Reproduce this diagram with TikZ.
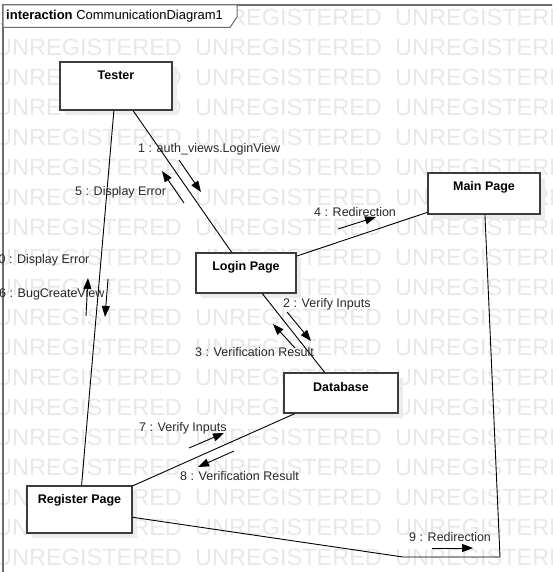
\documentclass[tikz,border=0pt]{standalone}
\usepackage{fontspec}
\setmainfont{Liberation Sans}
\usetikzlibrary{arrows.meta}
\definecolor{wmgray}{RGB}{232,232,232}
\definecolor{shadowgray}{RGB}{236,236,236}
\definecolor{boxline}{RGB}{60,60,60}
\definecolor{framegray}{RGB}{110,110,110}
\definecolor{labelcol}{RGB}{40,40,40}
\begin{document}
\begin{tikzpicture}[x=1pt,y=-1pt,
  wm/.style={anchor=west,inner sep=0pt,text=wmgray,font=\fontsize{23.5}{26}\selectfont},
  objbox/.style={draw=boxline,line width=1.3pt,fill=white,inner sep=0pt},
  objshadow/.style={fill=shadowgray,draw=none},
  objtitle/.style={inner sep=0pt,font=\fontsize{12.5}{14}\selectfont\bfseries},
  link/.style={draw=black,line width=0.9pt},
  msg/.style={draw=black,line width=0.9pt,-{Triangle[length=11pt,width=8pt]}},
  msglabel/.style={anchor=west,inner sep=0pt,text=labelcol,font=\fontsize{12.5}{14}\selectfont}]
\useasboundingbox (0,0) rectangle (552,572);
\clip (0,0) rectangle (552,572);
\fill[white] (0,0) rectangle (552,572);
% watermark
\foreach \r in {0,...,18}{
  \foreach \c in {0,1,2}{
    \node[wm] (wm-\r-\c) at (-5+200*\c,17.5+30*\r) {UNREGISTERED};
  }
}
% frame
\draw[framegray,line width=1.3pt] (3,600) -- (3,5) -- (600,5);
\draw[framegray,line width=1pt,fill=white] (3,5) -- (237,5) -- (237,17) -- (230,27.5) -- (3,27.5) -- cycle;
\node[anchor=west,inner sep=0pt,font=\fontsize{13}{15}\selectfont] (hdr) at (6,16) {\textbf{interaction} CommunicationDiagram1};
% shadows
\fill[objshadow] (65,67) rectangle (177,115);
\fill[objshadow] (201,258) rectangle (301,298);
\fill[objshadow] (433,178) rectangle (545,219);
\fill[objshadow] (289,378) rectangle (403,418);
\fill[objshadow] (32,491) rectangle (137,538);
% objects
\node[objbox,minimum width=112pt,minimum height=48pt] (tester) at (116,86) {};
\node[objbox,minimum width=100pt,minimum height=40pt] (login) at (246,273) {};
\node[objbox,minimum width=112pt,minimum height=41pt] (main) at (484,193.5) {};
\node[objbox,minimum width=114pt,minimum height=40pt] (db) at (341,393) {};
\node[objbox,minimum width=105pt,minimum height=47pt] (reg) at (79.5,509.5) {};
\node[objtitle] (tester-t) at (116,75) {Tester};
\node[objtitle] (login-t) at (246,267) {Login Page};
\node[objtitle] (main-t) at (484,187) {Main Page};
\node[objtitle] (db-t) at (341,387) {Database};
\node[objtitle] (reg-t) at (79.5,500) {Register Page};
% links
\coordinate (b1) at (403,557);
\coordinate (b2) at (500,557);
\draw[link] (tester) -- (login);
\draw[link] (tester) -- (reg);
\draw[link] (login) -- (main);
\draw[link] (login) -- (db);
\draw[link] (db) -- (reg);
\draw[link] (reg) -- (b1) -- (b2) -- (main);
% messages
\draw[msg] (179,160) -- (201,192);
\draw[msg] (184,203) -- (162,171);
\draw[msg] (338,229) -- (376,217);
\draw[msg] (86,316) -- (88,278);
\draw[msg] (108,279) -- (105,317);
\draw[msg] (287,312) -- (311,341);
\draw[msg] (295,348) -- (273,324);
\draw[msg] (189,448) -- (224,433);
\draw[msg] (234,451) -- (198,467);
\draw[msg] (432,548) -- (473,548);
% message labels
\node[msglabel] (l1) at (138,149) {1 : auth\_views.LoginView};
\node[msglabel] (l5) at (75,192) {5 : Display Error};
\node[msglabel] (l4) at (314,212) {4 : Redirection};
\node[msglabel] (l10) at (-8.5,260) {10 : Display Error};
\node[msglabel] (l6) at (-1,294) {6 : BugCreateView};
\node[msglabel] (l2) at (283,304) {2 : Verify Inputs};
\node[msglabel] (l3) at (195,352) {3 : Verification Result};
\node[msglabel] (l7) at (139,428) {7 : Verify Inputs};
\node[msglabel] (l8) at (180,476) {8 : Verification Result};
\node[msglabel] (l9) at (409,537) {9 : Redirection};
\end{tikzpicture}
\end{document}
